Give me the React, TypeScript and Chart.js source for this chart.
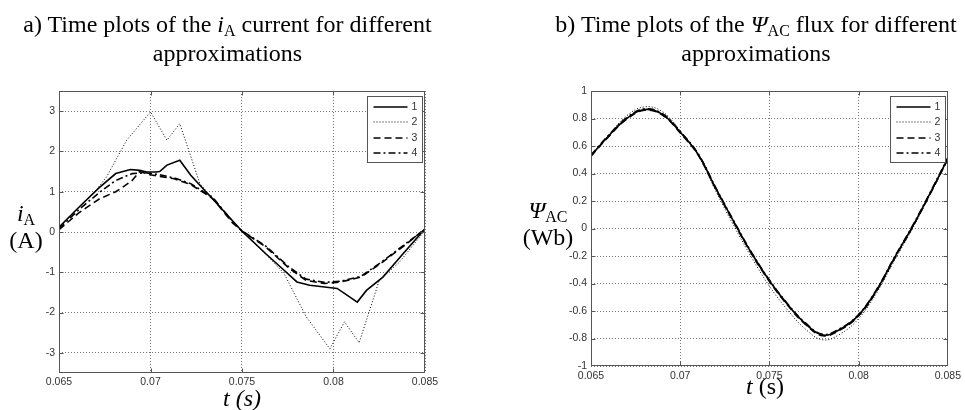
import React, { useEffect, useRef } from "react";
import { Chart, registerables } from "chart.js";

Chart.register(...registerables);

// ---------- tick labels ----------
const xTicks = [0.065, 0.07, 0.075, 0.08, 0.085];
const yTicksA = [-3, -2, -1, 0, 1, 2, 3];
const yTicksB = [-1, -0.8, -0.6, -0.4, -0.2, 0, 0.2, 0.4, 0.6, 0.8, 1];
const seriesLabels = ["1", "2", "3", "4"];

// ---------- chart a: i_A current ----------
const tA1 = [0.065, 0.0661, 0.0672, 0.0681, 0.0689, 0.0694, 0.0698, 0.0703, 0.0705, 0.0709, 0.0716, 0.0722, 0.0727, 0.0738, 0.075, 0.0763, 0.0773, 0.078, 0.0787, 0.0794, 0.0802, 0.0813, 0.0818, 0.0827, 0.0838, 0.085];
const iA1 = [0.12, 0.62, 1.1, 1.45, 1.55, 1.53, 1.49, 1.49, 1.5, 1.66, 1.78, 1.41, 1.16, 0.62, 0.02, -0.54, -0.95, -1.24, -1.32, -1.36, -1.4, -1.74, -1.45, -1.12, -0.54, 0.08];

const tA2 = [0.065, 0.0661, 0.067, 0.0676, 0.0687, 0.07, 0.0709, 0.0716, 0.0727, 0.0738, 0.075, 0.0763, 0.0773, 0.0785, 0.0798, 0.0806, 0.0814, 0.0825, 0.0836, 0.085];
const iA2 = [0.1, 0.62, 1.02, 1.37, 2.28, 2.98, 2.28, 2.69, 1.2, 0.62, 0.02, -0.55, -1.03, -2.1, -2.9, -2.23, -2.75, -1.2, -0.75, 0.04];

const tA3 = [0.065, 0.0661, 0.0672, 0.0681, 0.0686, 0.069, 0.0694, 0.07, 0.0713, 0.0722, 0.0734, 0.0745, 0.075, 0.0763, 0.0776, 0.0785, 0.0795, 0.0804, 0.0815, 0.0827, 0.084, 0.085];
const iA3 = [0.06, 0.48, 0.82, 1.0, 1.15, 1.28, 1.5, 1.42, 1.32, 1.18, 0.83, 0.22, 0.02, -0.37, -0.91, -1.2, -1.28, -1.24, -1.12, -0.74, -0.29, 0.08];

const tA4 = [0.065, 0.0661, 0.0672, 0.0681, 0.069, 0.0697, 0.0705, 0.0713, 0.0722, 0.0734, 0.0745, 0.075, 0.0763, 0.0776, 0.0785, 0.0795, 0.0804, 0.0815, 0.0827, 0.084, 0.085];
const iA4 = [0.09, 0.56, 0.98, 1.28, 1.45, 1.47, 1.42, 1.34, 1.2, 0.86, 0.25, 0.03, -0.35, -0.88, -1.17, -1.25, -1.22, -1.1, -0.72, -0.27, 0.06];

// ---------- chart b: Psi_AC flux ----------
const tB = [0.065, 0.066, 0.067, 0.068, 0.069, 0.07, 0.071, 0.072, 0.073, 0.074, 0.075, 0.076, 0.077, 0.078, 0.079, 0.08, 0.081, 0.082, 0.083, 0.084, 0.085];
const psi1 = [0.53, 0.675, 0.8, 0.865, 0.83, 0.7, 0.54, 0.29, 0.05, -0.18, -0.38, -0.55, -0.69, -0.775, -0.73, -0.63, -0.45, -0.215, 0.01, 0.255, 0.51];
const psi2 = [0.53, 0.68, 0.82, 0.885, 0.85, 0.71, 0.535, 0.27, 0.02, -0.21, -0.42, -0.59, -0.73, -0.81, -0.765, -0.655, -0.47, -0.235, -0.005, 0.245, 0.5];
const psi3 = [0.525, 0.67, 0.795, 0.86, 0.825, 0.695, 0.535, 0.285, 0.045, -0.185, -0.385, -0.555, -0.695, -0.78, -0.735, -0.635, -0.455, -0.22, 0.005, 0.25, 0.505];
const psi4 = [0.535, 0.68, 0.805, 0.87, 0.835, 0.705, 0.545, 0.295, 0.055, -0.175, -0.375, -0.545, -0.685, -0.77, -0.725, -0.625, -0.445, -0.21, 0.015, 0.26, 0.515];

const lineStyles = [
  { borderDash: [] as number[], borderWidth: 1.6 },
  { borderDash: [1, 2], borderWidth: 1 },
  { borderDash: [7, 4], borderWidth: 1.6 },
  { borderDash: [7, 3, 2, 3], borderWidth: 1.6 },
];

const TICK_FONT = { family: '"Liberation Sans", Arial, sans-serif', size: 10.5 };

function makeDatasets(ts: number[][], ys: number[][], tension: number) {
  return ts.map((t, i) => ({
    label: seriesLabels[i],
    data: t.map((x, k) => ({ x, y: ys[i][k] })),
    borderColor: "#000",
    backgroundColor: "#000",
    borderWidth: lineStyles[i].borderWidth,
    borderDash: lineStyles[i].borderDash,
    pointRadius: 0,
    fill: false,
    tension,
  }));
}

const al = (v: number) => Math.round(v) + 0.5;

const framePlugin = {
  id: "matlabFrame",
  afterDatasetsDraw(chart: any) {
    const { ctx, chartArea: a, scales } = chart;
    const L = al(a.left), R = al(a.right) - 1, T = al(a.top), B = al(a.bottom) - 1;
    ctx.save();
    ctx.setLineDash([]);
    ctx.strokeStyle = "#555";
    ctx.lineWidth = 1;
    ctx.strokeRect(L, T, R - L, B - T);
    const tl = 4;
    ctx.beginPath();
    scales.x.ticks.forEach((tk: any) => {
      const px = al(scales.x.getPixelForValue(tk.value));
      if (px <= L + 1 || px >= R - 1) return;
      ctx.moveTo(px, B); ctx.lineTo(px, B - tl);
      ctx.moveTo(px, T); ctx.lineTo(px, T + tl);
    });
    scales.y.ticks.forEach((tk: any) => {
      const py = al(scales.y.getPixelForValue(tk.value));
      if (py <= T + 1 || py >= B - 1) return;
      ctx.moveTo(L, py); ctx.lineTo(L + tl, py);
      ctx.moveTo(R, py); ctx.lineTo(R - tl, py);
    });
    ctx.stroke();
    ctx.restore();
  },
};

const legendPlugin = {
  id: "insideLegend",
  afterDraw(chart: any) {
    const { ctx, chartArea: a } = chart;
    const w = 55, h = 66;
    const left = Math.round(a.right - 3 - w) + 0.5;
    const top = Math.round(a.top + 5) + 0.5;
    ctx.save();
    ctx.fillStyle = "#fff";
    ctx.fillRect(left, top, w, h);
    ctx.setLineDash([]);
    ctx.strokeStyle = "#555";
    ctx.lineWidth = 1;
    ctx.strokeRect(left, top, w, h);
    ctx.font = `10.5px ${TICK_FONT.family}`;
    ctx.textBaseline = "middle";
    ctx.textAlign = "left";
    chart.data.datasets.forEach((ds: any, i: number) => {
      const y = Math.round(top + 10 + i * 15.6);
      ctx.beginPath();
      ctx.setLineDash(ds.borderDash || []);
      ctx.lineWidth = ds.borderWidth;
      ctx.strokeStyle = "#000";
      ctx.moveTo(left + 6, y);
      ctx.lineTo(left + 40, y);
      ctx.stroke();
      ctx.setLineDash([]);
      ctx.fillStyle = "#333";
      ctx.fillText(ds.label, left + 44, y + 0.5);
    });
    ctx.restore();
  },
};

function makeOptions(
  yMin: number, yMax: number, yTicks: number[],
  padding: { left: number; right: number; top: number; bottom: number },
  xPad: number
) {
  return {
    responsive: false,
    animation: false as const,
    layout: { padding },
    plugins: { legend: { display: false }, tooltip: { enabled: false }, title: { display: false } },
    scales: {
      x: {
        type: "linear" as const,
        min: 0.065,
        max: 0.085,
        afterBuildTicks: (s: any) => { s.ticks = xTicks.map((v) => ({ value: v })); },
        afterFit: (s: any) => { s.height = 20; },
        ticks: {
          autoSkip: false, maxRotation: 0, padding: xPad,
          color: "#333", font: TICK_FONT,
          callback: (v: any) => String(v),
        },
        grid: { color: "#777", lineWidth: 1, drawTicks: false },
        border: { display: false, dash: [1, 2] },
      },
      y: {
        type: "linear" as const,
        min: yMin,
        max: yMax,
        afterBuildTicks: (s: any) => { s.ticks = yTicks.map((v) => ({ value: v })); },
        afterFit: (s: any) => { s.width = 40; },
        ticks: {
          autoSkip: false, padding: 4,
          color: "#333", font: TICK_FONT,
          callback: (v: any) => String(v),
        },
        grid: { color: "#777", lineWidth: 1, drawTicks: false },
        border: { display: false, dash: [1, 2] },
      },
    },
  };
}

export default function App() {
  const refA = useRef<HTMLCanvasElement>(null);
  const refB = useRef<HTMLCanvasElement>(null);

  useEffect(() => {
    const chA = new Chart(refA.current as HTMLCanvasElement, {
      type: "line",
      data: { datasets: makeDatasets([tA1, tA2, tA3, tA4], [iA1, iA2, iA3, iA4], 0) as any },
      options: makeOptions(-3.5, 3.5, yTicksA, { left: 19, right: 55, top: 91, bottom: 17 }, 3) as any,
      plugins: [framePlugin, legendPlugin],
    });
    const chB = new Chart(refB.current as HTMLCanvasElement, {
      type: "line",
      data: { datasets: makeDatasets([tB, tB, tB, tB], [psi1, psi2, psi3, psi4], 0.4) as any },
      options: makeOptions(-1, 1, yTicksB, { left: 71, right: 12, top: 91, bottom: 24 }, 4) as any,
      plugins: [framePlugin, legendPlugin],
    });
    return () => { chA.destroy(); chB.destroy(); };
  }, []);

  const serif = '"Liberation Serif", "Times New Roman", Times, serif';
  const sub = (s: string) => (
    <span style={{ fontSize: 16, position: "relative", top: 4 }}>{s}</span>
  );

  return (
    <div style={{ position: "absolute", left: 0, top: 0, width: 965, height: 410, overflow: "hidden", background: "#fff", fontFamily: serif, color: "#000" }}>
      <canvas ref={refA} width={480} height={410} style={{ position: "absolute", left: 0, top: 0, width: 480, height: 410 }} />
      <canvas ref={refB} width={485} height={410} style={{ position: "absolute", left: 480, top: 0, width: 485, height: 410 }} />

      <div style={{ position: "absolute", left: 0, top: 11, width: 455, textAlign: "center", fontSize: 24, lineHeight: "26px", whiteSpace: "nowrap" }}>
        <div>a) Time plots of the <i>i</i>{sub("A")} current for different</div>
        <div>approximations</div>
      </div>
      <div style={{ position: "absolute", left: 547, top: 11, width: 418, textAlign: "center", fontSize: 24, lineHeight: "26px", whiteSpace: "nowrap" }}>
        <div>b) Time plots of the <i>Ψ</i>{sub("AC")} flux for different</div>
        <div>approximations</div>
      </div>

      <div style={{ position: "absolute", left: 0, top: 201, width: 52, textAlign: "center", fontSize: 24, lineHeight: "24px", whiteSpace: "nowrap" }}>
        <div><i>i</i>{sub("A")}</div>
        <div>(A)</div>
      </div>
      <div style={{ position: "absolute", left: 513, top: 198, width: 70, textAlign: "center", fontSize: 24, lineHeight: "25px", whiteSpace: "nowrap" }}>
        <div><i>Ψ</i>{sub("AC")}</div>
        <div>(Wb)</div>
      </div>

      <div style={{ position: "absolute", left: 192, top: 386, width: 100, textAlign: "center", fontSize: 24, lineHeight: "24px", whiteSpace: "nowrap" }}>
        <i>t (s)</i>
      </div>
      <div style={{ position: "absolute", left: 715, top: 374, width: 100, textAlign: "center", fontSize: 24, lineHeight: "24px", whiteSpace: "nowrap" }}>
        <i>t</i> (s)
      </div>
    </div>
  );
}
